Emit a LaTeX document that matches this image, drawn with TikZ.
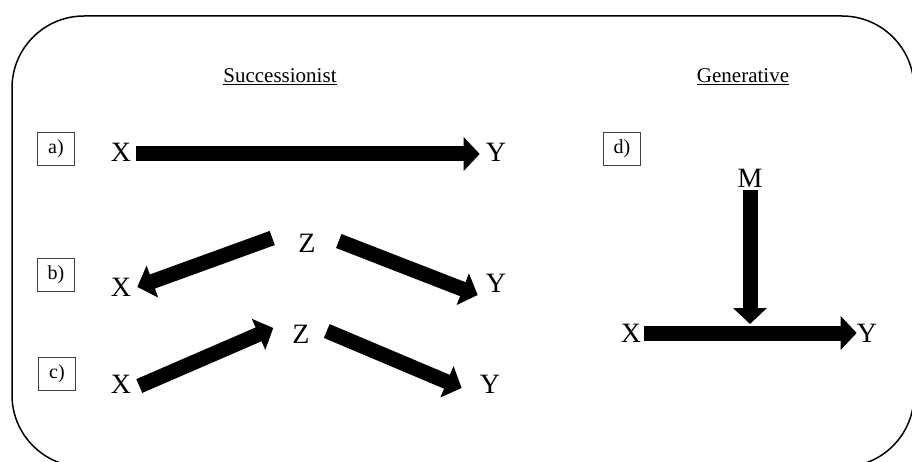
\documentclass[tikz,border=0pt]{standalone}
\usepackage{fontspec}
\setmainfont{Liberation Serif}
\usetikzlibrary{arrows.meta,calc}

\begin{document}
\begin{tikzpicture}[
  x=1pt, y=1pt,
  var/.style={font=\fontsize{28}{30}\selectfont, inner sep=3pt},
  tag/.style={draw=black!75, line width=0.8pt, minimum width=37pt, minimum height=33pt,
              inner sep=0pt, font=\fontsize{20}{22}\selectfont},
  heading/.style={font=\fontsize{21}{24}\selectfont, anchor=base},
  fat/.style={-{Triangle[width=33pt,length=16pt]}, line width=15pt}
]
\useasboundingbox (0,0) rectangle (912,461);
\clip (0,0) rectangle (912,461);

% outer frame, runs off the bottom edge
\draw[line width=1.5pt, rounded corners=72pt] (12,445) rectangle (914,-6);

\node[heading] (succ) at (280,378) {\underline{Successionist}};
\node[heading] (gen) at (743,378) {\underline{Generative}};

\foreach \t/\x/\y in {a/56/312, b/56/186, c/57/87, d/622/312}
  \node[tag] (tag\t) at (\x,\y) {\t)};

% a) direct
\node[var] (xa) at (121,309) {X};
\node[var] (ya) at (496,309) {Y};
\draw[fat] ($(xa.east)+(2,-2)$) -- ($(ya.west)+(-3,-2)$);

% b) common cause
\node[var] (zb) at (307,218) {Z};
\node[var] (xb) at (121,174) {X};
\node[var] (yb) at (496,178) {Y};
\draw[fat] ($(zb.west)+(-23,5)$) -- ($(xb.east)+(3,0)$);
\draw[fat] ($(zb.east)+(20,2)$) -- ($(yb.west)+(-5,-12)$);

% c) chain
\node[var] (zc) at (301,127) {Z};
\node[var] (xc) at (121,77) {X};
\node[var] (yc) at (490,77) {Y};
\draw[fat] ($(xc.east)+(5,-2)$) -- ($(zc.west)+(-16,6)$);
\draw[fat] ($(zc.east)+(14,3)$) -- ($(yc.west)+(-15,-4)$);

% d) mechanism
\node[var] (m) at (750,283) {M};
\node[var] (xd) at (631,128) {X};
\node[var] (yd) at (867,128) {Y};
\draw[fat] (xd) -- ($(yd.west)+(3,0)$);
\coordinate (join) at (m |- xd);
\draw[fat, shorten >=9pt] (m) -- (join);
\end{tikzpicture}
\end{document}
